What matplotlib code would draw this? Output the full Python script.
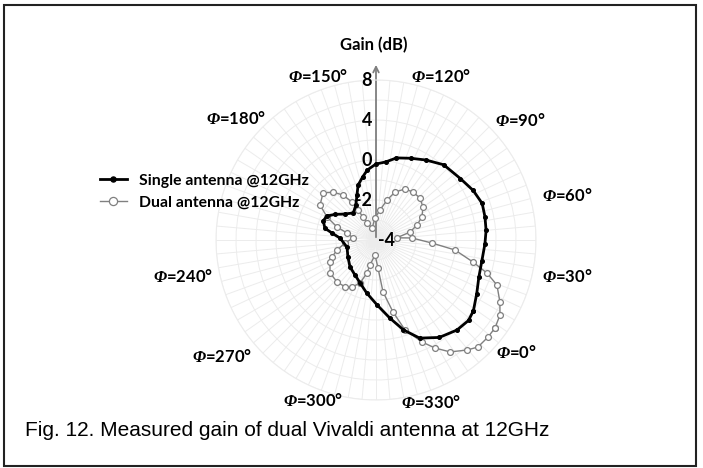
import numpy as np
import matplotlib.pyplot as plt
from matplotlib.patches import Rectangle

plt.rcParams['mathtext.fontset'] = 'custom'
plt.rcParams['mathtext.rm'] = 'Liberation Serif:italic:bold'

# measured gain (dB) vs azimuth phi (deg)
phi_single = [4, 12, 20, 29, 38, 45, 52, 59, 67, 76, 88, 98, 107, 116, 123, 130,
              137, 142, 148, 153, 160, 170, 180, 188, 194, 200, 207, 211, 217,
              234, 251, 266, 279, 290, 300, 311, 320, 327, 334, 343, 352, 359]
gain_single = [4.04, 3.41, 2.94, 2.79, 2.9, 3.05, 3.14, 3.23, 2.91, 2.44, 2.12, 1.43,
               0.88, 0.46, -0.07, -0.2, -0.47, -0.78, -1.11, -1.56, -1.99, -2.23,
               -1.98, -1.58, -1.27, -1.19, -1.38, -1.77, -2.2, -2.51, -2.36, -2.13,
               -1.96, -1.7, -1.31, -0.75, -0.04, 1.4, 2.74, 3.62, 4.11, 4.26]

phi_dual = [3.5, 8.8, 13.4, 19.6, 23.4, 27.2, 32.8, 36.9, 43.2, 46,
            53.2, 60.1, 66.6, 75.1, 83.7, 92.4, 100.4, 108.4, 114.6, 122.4,
            132.6, 148, 158, 159.5, 161, 162.3, 166.3, 171.9, 178.4, 188,
            194.9, 201.6, 206.4, 215, 225.5, 234.4, 241.1, 245.6, 255.7, 267.1,
            276.6, 283, 289.6, 294.7, 296.5, 306.2, 314.1, 317.7, 323.3, 327.9,
            334.3, 338.6, 343.5, 349.6, 353.6, 359.1]
gain_dual = [6.8, 6.49, 5.86, 4.9, 3.58, 1.95, -0.02, -1.2, -2.2, -2.95,
             -2.25, -1.82, -1.43, -1.13, -0.96, -0.97, -1.07, -1.42, -1.93, -2.49,
             -2.9, -3.37, -3.04, -2.68, -2.25, -1.75, -1.21, -0.78, -0.46, -0.7,
             -1.3, -1.95, -2.51, -2.85, -2.45, -1.99, -1.64, -1.45, -1.17, -1.14,
             -1.19, -1.36, -1.7, -2.29, -2.72, -3.25, -2.6, -1.38, -0.3, 1.46,
             3.19, 4.3, 5.42, 6.28, 6.78, 6.82]

# radial axis labels as printed (non-uniform spacing on the rings)
r_labels = [-4, -2, 0, 4, 8]
r_rings = [0, 2, 4, 6, 8]
phi_labels = ['0', '30', '60', '90', '120', '150', '180', '240', '270', '300', '330']
phi_label_px = [(516, 353), (567, 277), (567, 195), (520, 120), (441, 77), (318, 77),
                (236, 118), (183, 277), (222, 357), (313, 400), (431, 402)]


def fwd(v):
    return np.interp(v, r_labels, r_rings)


def inv(v):
    return np.interp(v, r_rings, r_labels)


W, H = 703, 468
fig = plt.figure(figsize=(W / 100, H / 100), dpi=100)
ax = fig.add_axes([216 / W, 68 / H, 320 / W, 320 / H], projection='polar')
ax.set_rscale('function', functions=(fwd, inv))
ax.set_theta_offset(np.deg2rad(-40))
ax.set_rlim(-4, 8)

ax.set_yticks(inv(np.arange(1, 9)))
ax.set_yticklabels([])
ax.set_xticks(np.deg2rad(np.arange(0, 360, 5)))
ax.set_xticklabels([])
ax.grid(True, color='#ececec', lw=0.7)
ax.spines['polar'].set_color('#ececec')
ax.spines['polar'].set_linewidth(0.8)

th_s = np.deg2rad(np.append(phi_single, phi_single[0]))
g_s = np.append(gain_single, gain_single[0])
th_d = np.deg2rad(np.append(phi_dual, phi_dual[0]))
g_d = np.append(gain_dual, gain_dual[0])

ax.plot(th_d, g_d, color='#808080', lw=1.0, marker='o', ms=4.2, mfc='white',
        mec='#808080', mew=0.9, label='Dual antenna @12GHz', zorder=3)
ax.plot(th_s, g_s, color='black', lw=2.0, marker='o', ms=2.6, mfc='black',
        mec='black', label='Single antenna @12GHz', zorder=4)

# vertical gain axis with arrow
ax.annotate('', xy=(0.5, 1.056), xytext=(0.5, 0.5), xycoords='axes fraction',
            arrowprops=dict(arrowstyle='->', color='#7f7f7f', lw=1.3),
            annotation_clip=False, zorder=2)

up = np.deg2rad(130)
for val in r_labels:
    if val == -4:
        ax.annotate('-4', xy=(up, val), xytext=(1.5, 0), textcoords='offset points',
                    ha='left', va='center', fontsize=13, fontweight='bold',
                    family='Lato', zorder=5)
    else:
        ax.annotate(str(val), xy=(up, val), xytext=(-3, 0), textcoords='offset points',
                    ha='right', va='center', fontsize=13, fontweight='bold',
                    family='Lato', zorder=5)

fig.text(374 / W, 1 - 45 / H, 'Gain (dB)', ha='center', va='center',
         fontsize=12, fontweight='bold', family='Lato')

for lbl, (px, py) in zip(phi_labels, phi_label_px):
    fig.text(px / W, 1 - py / H, r'$\Phi$=' + lbl + '°', ha='center', va='center',
             fontsize=12, fontweight='bold', family='Lato')

h, l = ax.get_legend_handles_labels()
fig.legend(h[::-1], l[::-1], loc='center left', bbox_to_anchor=(100 / W, 1 - 191.5 / H),
           frameon=False, borderpad=0, borderaxespad=0, handlelength=1.7,
           handletextpad=0.8, labelspacing=0.5, markerscale=1.4,
           prop={'family': 'Lato', 'weight': 'bold', 'size': 11.3})

fig.text(25 / W, 1 - 430 / H, 'Fig. 12. Measured gain of dual Vivaldi antenna at 12GHz',
         ha='left', va='center', fontsize=15, family='Liberation Sans')

fig.patches.append(Rectangle((4 / W, 2 / H), 692 / W, 461 / H, transform=fig.transFigure,
                             fill=False, ec='#222222', lw=1.5))

fig.savefig('out.png', dpi=100)
